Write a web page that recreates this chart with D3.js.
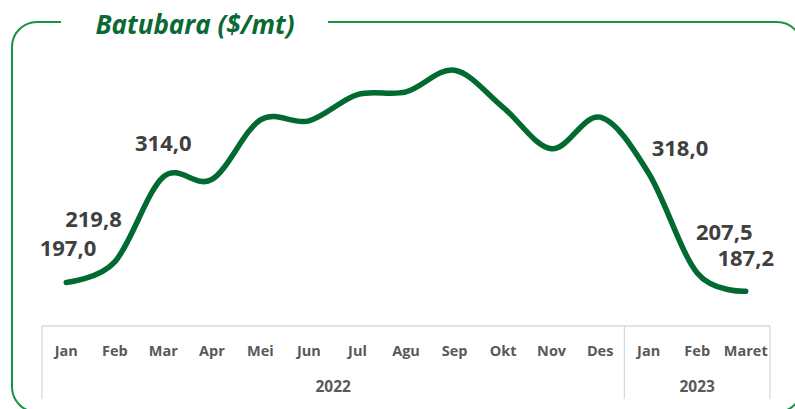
<!DOCTYPE html>
<html>
<head>
<meta charset="utf-8">
<script src="https://cdn.jsdelivr.net/npm/d3@7"></script>
<style>
  html, body { margin: 0; padding: 0; background: #fff; }
  svg { display: block; font-family: "Open Sans", sans-serif; }
</style>
</head>
<body>
<svg width="795" height="409"></svg>
<script>
var months = ['Jan', 'Feb', 'Mar', 'Apr', 'Mei', 'Jun', 'Jul', 'Agu', 'Sep', 'Okt', 'Nov', 'Des', 'Jan', 'Feb', 'Maret'];
var prices = [197.0, 219.8, 314.0, 311, 377, 376, 405, 408, 432, 391, 345, 380, 318.0, 207.5, 187.2];
var years = ['2022', '2023'];
var yearCounts = [12, 3];
var labeled = [0, 1, 2, 12, 13, 14];

// manual label placement (like the hand-moved labels in the original)
var labelPos = {
    0: { dx: 30, dy: -26, anchor: 'end' },
    1: { dx: 7, dy: -35, anchor: 'end' },
    2: { dx: 0, dy: -26, anchor: 'middle' },
    12: { dx: 3, dy: -17, anchor: 'start' },
    13: { dx: 27, dy: -33, anchor: 'middle' },
    14: { dx: 0, dy: -25, anchor: 'middle' }
};

var svg = d3.select('svg');
var green = '#006a30';
var frame = '#17943f';

// frame with gap for the title
var L = 12, T = 22, R = 802, B = 412, r = 25;
var framePath = d3.path();
framePath.moveTo(61, T);
framePath.lineTo(L + r, T);
framePath.arcTo(L, T, L, T + r, r);
framePath.lineTo(L, B - r);
framePath.arcTo(L, B, L + r, B, r);
framePath.lineTo(R - r, B);
framePath.arcTo(R, B, R, B - r, r);
framePath.lineTo(R, T + r);
framePath.arcTo(R, T, R - r, T, r);
framePath.lineTo(328, T);

svg.append('path')
    .attr('d', framePath.toString())
    .attr('fill', 'none')
    .attr('stroke', frame)
    .attr('stroke-width', 2);

svg.append('text')
    .attr('x', 195)
    .attr('y', 34)
    .attr('text-anchor', 'middle')
    .attr('font-size', 26)
    .attr('font-weight', 'bold')
    .attr('font-style', 'italic')
    .attr('fill', '#0b6a34')
    .text('Batubara ($/mt)');

var xScale = d3.scaleBand()
    .domain(d3.range(months.length))
    .range([42, 770])
    .padding(0);

var yScale = d3.scaleLinear()
    .domain([100, 450])
    .range([370, 54]);

function cx(i) { return xScale(i) + xScale.bandwidth() / 2; }

// category box
var axisTop = 326, axisBottom = 399;
var grid = svg.append('g').attr('stroke', '#d9d9d9').attr('stroke-width', 1.3);
grid.append('line')
    .attr('x1', xScale.range()[0]).attr('x2', xScale.range()[1])
    .attr('y1', axisTop).attr('y2', axisTop);

var bounds = [0];
yearCounts.forEach(function (c, k) { bounds.push(bounds[k] + c); });
bounds.forEach(function (b) {
    var x = b < months.length ? xScale(b) : xScale.range()[1];
    grid.append('line')
        .attr('x1', x).attr('x2', x)
        .attr('y1', axisTop).attr('y2', axisBottom);
});

var xAxis = svg.append('g')
    .attr('transform', 'translate(0,' + axisTop + ')')
    .call(d3.axisBottom(xScale).tickSize(0).tickFormat(function (i) { return months[i]; }));
xAxis.select('.domain').remove();
xAxis.selectAll('text')
    .attr('y', 30)
    .attr('dy', 0)
    .attr('font-family', '"Open Sans", sans-serif')
    .attr('font-size', 14.5)
    .attr('font-weight', 'bold')
    .attr('fill', '#595959');

svg.append('g').selectAll('text')
    .data(years)
    .enter().append('text')
    .attr('x', function (d, k) {
        var a = xScale(bounds[k]);
        var b = bounds[k + 1] < months.length ? xScale(bounds[k + 1]) : xScale.range()[1];
        return (a + b) / 2;
    })
    .attr('y', 392)
    .attr('text-anchor', 'middle')
    .attr('font-size', 15.5)
    .attr('font-weight', 'bold')
    .attr('fill', '#595959')
    .text(function (d) { return d; });

svg.append('path')
    .datum(prices)
    .attr('d', d3.line()
        .x(function (d, i) { return cx(i); })
        .y(function (d) { return yScale(d); })
        .curve(d3.curveCardinal.tension(0)))
    .attr('fill', 'none')
    .attr('stroke', green)
    .attr('stroke-width', 5.5)
    .attr('stroke-linecap', 'round');

svg.append('g').selectAll('text')
    .data(labeled)
    .enter().append('text')
    .attr('x', function (i) { return cx(i) + labelPos[i].dx; })
    .attr('y', function (i) { return yScale(prices[i]) + labelPos[i].dy; })
    .attr('text-anchor', function (i) { return labelPos[i].anchor; })
    .attr('font-size', 22)
    .attr('font-weight', 'bold')
    .attr('fill', '#404040')
    .text(function (i) { return prices[i].toFixed(1).replace('.', ','); });
</script>
</body>
</html>
